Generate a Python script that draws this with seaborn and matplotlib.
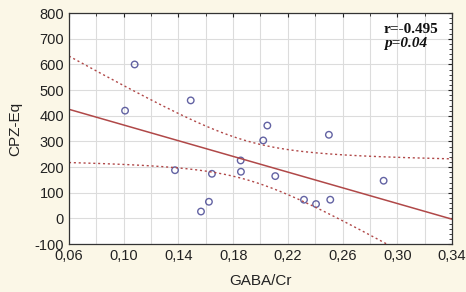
import numpy as np
import pandas as pd
import matplotlib
matplotlib.use("Agg")
import matplotlib.pyplot as plt
from matplotlib.ticker import MultipleLocator, FixedLocator, FuncFormatter
import seaborn as sns

# values
gaba_cr = [0.101, 0.108, 0.149, 0.1375, 0.1565, 0.1623, 0.1645, 0.1855, 0.1857,
           0.2108, 0.202, 0.205, 0.2318, 0.2406, 0.250, 0.251, 0.290]
cpz_eq = [420, 600, 460, 188, 27, 65, 174, 226, 182,
          165, 304, 362, 73, 56, 326, 73, 147]
x_ticks = [0.06, 0.10, 0.14, 0.18, 0.22, 0.26, 0.30, 0.34]
r_text = "r=-0.495"
p_text = "p=0.04"

df = pd.DataFrame({"GABA/Cr": gaba_cr, "CPZ-Eq": cpz_eq})

sns.set_style("white")
plt.rcParams['font.family'] = ['Liberation Sans', 'DejaVu Sans']
plt.rcParams['axes.unicode_minus'] = False

fig = plt.figure(figsize=(4.66, 2.92), dpi=100, facecolor="#fbf7e7")
ax = fig.add_axes([0.148, 0.164, 0.822, 0.791])
ax.set_facecolor("white")
ax.set_xlim(0.06, 0.34)
ax.set_ylim(-100, 800)

line_col = "#b04848"
sns.regplot(data=df, x="GABA/Cr", y="CPZ-Eq", ax=ax, ci=None, truncate=False,
            scatter_kws=dict(s=22, facecolors="none", edgecolors="#3c3c8c", linewidths=1.0),
            line_kws=dict(color=line_col, lw=1.1))

# 95% confidence band of the fit, drawn as dotted lines
x = np.array(gaba_cr)
y = np.array(cpz_eq)
n = len(x)
b, a = np.polyfit(x, y, 1)
resid = y - (a + b * x)
s = np.sqrt((resid ** 2).sum() / (n - 2))
sxx = ((x - x.mean()) ** 2).sum()
xs = np.linspace(0.06, 0.34, 200)
yh = a + b * xs
half = 2.131 * s * np.sqrt(1 / n + (xs - x.mean()) ** 2 / sxx)
ax.plot(xs, yh + half, ls=(0, (1.5, 2)), color=line_col, lw=1.0)
ax.plot(xs, yh - half, ls=(0, (1.5, 2)), color=line_col, lw=1.0)

ax.xaxis.set_major_locator(FixedLocator(x_ticks))
ax.xaxis.set_minor_locator(MultipleLocator(0.02))
ax.yaxis.set_major_locator(MultipleLocator(100))
ax.yaxis.set_minor_locator(MultipleLocator(20))
ax.xaxis.set_major_formatter(FuncFormatter(lambda v, p: f"{v:.2f}".replace(".", ",")))
ax.grid(True, which="major", color="#dcdcdc", lw=0.8)
ax.grid(True, which="minor", axis="x", color="#dcdcdc", lw=0.8)
ax.tick_params(which="both", direction="in", top=True, right=True, colors="#222222",
               labelsize=10.5, labelcolor="#222222")
ax.tick_params(which="major", length=3)
ax.tick_params(which="minor", length=2)
for sp in ax.spines.values():
    sp.set_color("#333333")
    sp.set_linewidth(0.9)

ax.set_xlabel("GABA/Cr", fontsize=11, color="#222222", labelpad=8)
ax.set_ylabel("CPZ-Eq", fontsize=11, color="#222222", labelpad=9)

ax.text(0.822, 0.913, r_text, transform=ax.transAxes, fontsize=11, fontweight="bold",
        family=["Liberation Serif"], color="#111111", ha="left")
ax.text(0.822, 0.853, p_text, transform=ax.transAxes, fontsize=11, fontweight="bold",
        style="italic", family=["Liberation Serif"], color="#111111", ha="left")

fig.savefig("out.png", dpi=100, facecolor=fig.get_facecolor())
